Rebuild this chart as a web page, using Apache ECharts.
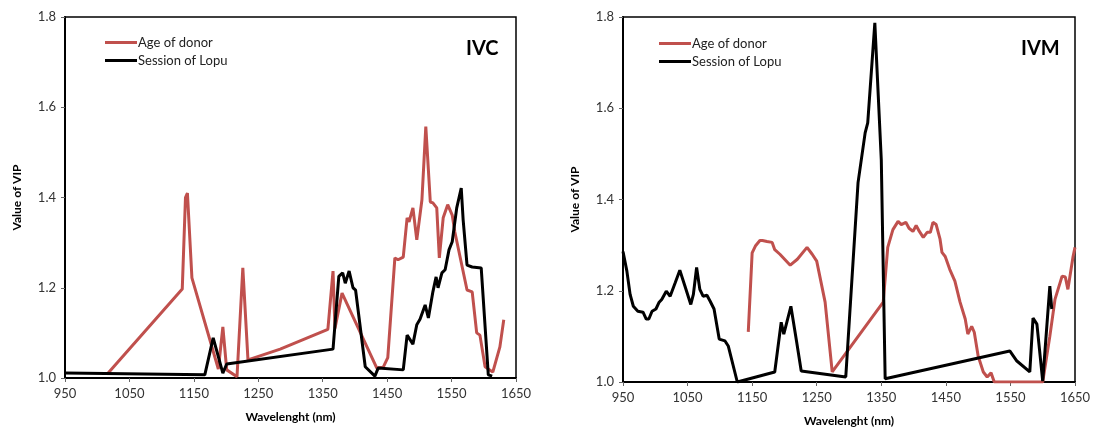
<!DOCTYPE html>
<html>
<head>
<meta charset="utf-8">
<script src="https://cdn.jsdelivr.net/npm/echarts@6/dist/echarts.min.js"></script>
<style>
  html, body { margin: 0; padding: 0; background: #fff; }
  #vipChart { width: 1105px; height: 432px; }
</style>
</head>
<body>
<div id="vipChart"></div>
<script>
  // IVC panel
  var ivcAgeX = [1017, 1132, 1137, 1140, 1147, 1188, 1195, 1201, 1217, 1226, 1234, 1284, 1358, 1366, 1369, 1380, 1434, 1444, 1451, 1462, 1467, 1475, 1481, 1484, 1490, 1496, 1504, 1510, 1517, 1521, 1527, 1531, 1537, 1544, 1551, 1555, 1574, 1582, 1589, 1594, 1602, 1614, 1625, 1631];
  var ivcAgeY = [1.011, 1.197, 1.400, 1.410, 1.222, 1.020, 1.113, 1.018, 1.003, 1.244, 1.040, 1.064, 1.108, 1.237, 1.110, 1.188, 1.022, 1.024, 1.045, 1.266, 1.262, 1.268, 1.355, 1.346, 1.377, 1.306, 1.395, 1.557, 1.390, 1.388, 1.377, 1.266, 1.355, 1.384, 1.361, 1.324, 1.195, 1.191, 1.100, 1.095, 1.025, 1.013, 1.069, 1.129];
  var ivcLopuX = [950, 1167, 1180, 1195, 1201, 1366, 1375, 1381, 1385, 1391, 1397, 1401, 1416, 1431, 1436, 1475, 1481, 1490, 1496, 1501, 1509, 1514, 1521, 1526, 1529, 1535, 1540, 1546, 1551, 1558, 1565, 1568, 1574, 1582, 1596, 1607, 1613];
  var ivcLopuY = [1.011, 1.007, 1.089, 1.011, 1.031, 1.064, 1.225, 1.233, 1.210, 1.237, 1.200, 1.195, 1.025, 1.004, 1.022, 1.018, 1.095, 1.075, 1.118, 1.130, 1.162, 1.133, 1.191, 1.224, 1.200, 1.233, 1.240, 1.284, 1.302, 1.377, 1.421, 1.350, 1.250, 1.246, 1.244, 1.007, 1.004];

  // IVM panel
  var ivmAgeX = [1144, 1150, 1155, 1162, 1166, 1173, 1181, 1185, 1193, 1209, 1220, 1235, 1243, 1250, 1263, 1274, 1353, 1360, 1368, 1376, 1381, 1388, 1393, 1399, 1404, 1409, 1415, 1421, 1426, 1430, 1435, 1441, 1444, 1449, 1456, 1464, 1472, 1480, 1484, 1490, 1494, 1500, 1508, 1514, 1520, 1525, 1600, 1611, 1619, 1630, 1635, 1639, 1647, 1650];
  var ivmAgeY = [1.110, 1.283, 1.298, 1.310, 1.310, 1.308, 1.306, 1.290, 1.280, 1.256, 1.269, 1.295, 1.280, 1.265, 1.175, 1.022, 1.175, 1.295, 1.334, 1.352, 1.345, 1.350, 1.337, 1.330, 1.343, 1.330, 1.317, 1.328, 1.328, 1.350, 1.345, 1.313, 1.284, 1.275, 1.247, 1.221, 1.175, 1.138, 1.105, 1.122, 1.109, 1.057, 1.022, 1.011, 1.020, 1.000, 1.000, 1.100, 1.181, 1.232, 1.230, 1.203, 1.275, 1.295];
  var ivmLopuX = [950, 956, 961, 966, 973, 981, 986, 990, 995, 1001, 1006, 1010, 1017, 1023, 1031, 1038, 1046, 1055, 1059, 1064, 1069, 1074, 1080, 1085, 1091, 1099, 1108, 1113, 1127, 1185, 1195, 1199, 1210, 1219, 1226, 1295, 1314, 1325, 1329, 1340, 1350, 1356, 1549, 1560, 1580, 1585, 1591, 1600, 1611, 1614];
  var ivmLopuY = [1.286, 1.243, 1.192, 1.166, 1.155, 1.153, 1.138, 1.138, 1.155, 1.160, 1.175, 1.181, 1.199, 1.188, 1.218, 1.245, 1.210, 1.170, 1.192, 1.251, 1.203, 1.188, 1.190, 1.177, 1.160, 1.094, 1.090, 1.079, 1.000, 1.022, 1.131, 1.105, 1.166, 1.087, 1.024, 1.011, 1.437, 1.546, 1.568, 1.787, 1.487, 1.007, 1.068, 1.046, 1.022, 1.140, 1.127, 1.002, 1.210, 1.160];

  var xTicks = [950, 1650, 100];
  var yTicks = [1.0, 1.8, 0.2];

  var seriesNames = ['Age of donor', 'Session of Lopu'];
  var lineColors = ['#c0504d', '#000000'];

  function pairs(xs, ys) {
    var out = [];
    for (var i = 0; i < xs.length; i++) {
      out.push([xs[i], ys[i]]);
    }
    return out;
  }

  var font = 'Lato, "Open Sans", sans-serif';

  function makeX(idx) {
    return {
      type: 'value',
      gridIndex: idx,
      min: xTicks[0],
      max: xTicks[1],
      interval: xTicks[2],
      name: 'Wavelenght (nm)',
      nameLocation: 'middle',
      nameGap: 33,
      nameTextStyle: { fontFamily: font, fontWeight: 'bold', fontSize: 12, color: '#000' },
      splitLine: { show: false },
      axisLine: { lineStyle: { color: '#000', width: 2 } },
      axisTick: { show: true, length: 4, lineStyle: { color: '#666' } },
      axisLabel: {
        color: '#333', fontFamily: font, fontSize: 13, margin: 9,
        formatter: function (v) { return String(v) }
      }
    }
  }

  function makeY(idx) {
    return {
      type: 'value',
      gridIndex: idx,
      min: yTicks[0],
      max: yTicks[1],
      interval: yTicks[2],
      name: 'Value of VIP',
      nameLocation: 'middle',
      nameGap: 42,
      nameTextStyle: { fontFamily: font, fontWeight: 'bold', fontSize: 12, color: '#000' },
      splitLine: { show: false },
      axisLine: { show: true, lineStyle: { color: '#000', width: 2 } },
      axisTick: { show: true, length: 4, lineStyle: { color: '#666' } },
      axisLabel: {
        color: '#333', fontFamily: font, fontSize: 13, margin: 9,
        formatter: function (v) { return v.toFixed(1) }
      }
    }
  }

  function makeLine(name, idx, data, color) {
    return {
      name: name,
      type: 'line',
      xAxisIndex: idx,
      yAxisIndex: idx,
      data: data,
      showSymbol: false,
      symbol: 'none',
      clip: true,
      color: color,
      lineStyle: { width: 3, color: color },
      emphasis: { disabled: true }
    }
  }

  var chart = echarts.init(document.getElementById('vipChart'));
  var option = {
    animation: false,
    backgroundColor: '#fff',
    title: [
      { text: 'IVC', left: 461, top: 34, textStyle: { fontFamily: font, fontWeight: 'bold', fontSize: 20, color: '#000' } },
      { text: 'IVM', left: 1016, top: 34, textStyle: { fontFamily: font, fontWeight: 'bold', fontSize: 20, color: '#000' } }
    ],
    legend: [
      {
        data: seriesNames, orient: 'vertical', left: 100, top: 31,
        icon: 'rect', itemWidth: 32, itemHeight: 3, itemGap: 5,
        textStyle: { fontFamily: font, fontSize: 13, color: '#222', padding: [0, 0, 0, -4] }
      },
      {
        data: seriesNames, orient: 'vertical', left: 654, top: 32,
        icon: 'rect', itemWidth: 32, itemHeight: 3, itemGap: 5,
        textStyle: { fontFamily: font, fontSize: 13, color: '#222', padding: [0, 0, 0, -4] }
      }
    ],
    grid: [
      { left: 65, top: 17, width: 451, height: 361, show: true, borderColor: '#000', borderWidth: 1.5 },
      { left: 623, top: 17, width: 452, height: 366, show: true, borderColor: '#000', borderWidth: 1.5 }
    ],
    xAxis: [makeX(0), makeX(1)],
    yAxis: [makeY(0), makeY(1)],
    series: [
      makeLine(seriesNames[0], 0, pairs(ivcAgeX, ivcAgeY), lineColors[0]),
      makeLine(seriesNames[1], 0, pairs(ivcLopuX, ivcLopuY), lineColors[1]),
      makeLine(seriesNames[0], 1, pairs(ivmAgeX, ivmAgeY), lineColors[0]),
      makeLine(seriesNames[1], 1, pairs(ivmLopuX, ivmLopuY), lineColors[1])
    ]
  };
  chart.setOption(option);
</script>
</body>
</html>
